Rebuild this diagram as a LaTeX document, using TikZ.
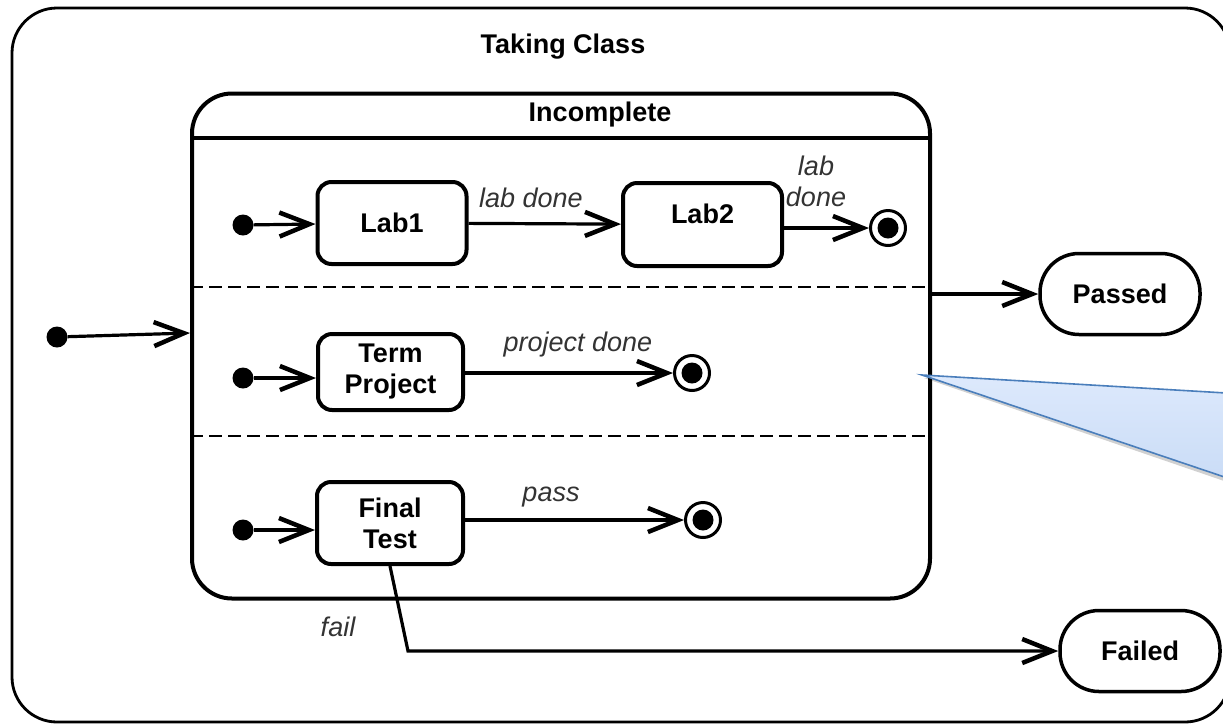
\documentclass[tikz,border=0pt]{standalone}
\usepackage{fontspec}
\setmainfont{Liberation Sans}
\usetikzlibrary{arrows.meta,shadows}
\definecolor{calloutfillA}{HTML}{DDE9FC}
\definecolor{calloutfillB}{HTML}{C8DBF6}
\definecolor{calloutline}{HTML}{4A7EBB}
\begin{document}
\begin{tikzpicture}[x=1pt,y=-1pt,
  bigfont/.style={font=\fontsize{27}{31}\selectfont\bfseries},
  statebox/.style={draw, line width=4pt, rounded corners=14pt, bigfont, align=center, inner sep=0pt},
  endbox/.style={draw, line width=3.5pt, rounded corners=39pt, bigfont, inner sep=0pt, minimum width=160pt, minimum height=81pt},
  initdot/.style={circle, fill, inner sep=0pt, minimum size=21pt},
  finalst/.style={circle, draw, line width=3pt, inner sep=0pt, minimum size=35pt,
     path picture={\fill (path picture bounding box.center) circle (10.5pt);}},
  trans/.style={line width=3.2pt, -{Straight Barb[length=30pt,width=24pt,line width=4.5pt]}},
  lbl/.style={font=\fontsize{27}{31}\selectfont\itshape, text=black!80, align=center, inner sep=0pt},
  sep/.style={line width=2.8pt, dash pattern=on 13pt off 6pt}
]
\useasboundingbox (0,0) rectangle (1223,724);

% outer state
\draw[line width=2.8pt, rounded corners=45pt] (12,8) rectangle (1230,722);
\node[bigfont] (taking) at (563,47) {Taking Class};

% composite state
\node[draw, line width=4pt, rounded corners=40pt, minimum width=738pt, minimum height=505pt, inner sep=0pt] (inc) at (561,346) {};
\node[bigfont] (inctitle) at (600,115) {Incomplete};
\draw[line width=4pt] (inc.west |- 0,138) -- (inc.east |- 0,138);
\draw[sep] (inc.west |- 0,287) -- (inc.east |- 0,287);
\draw[sep] (inc.west |- 0,436) -- (inc.east |- 0,436);

% region 1
\node[initdot] (i1) at (243,225) {};
\node[statebox, minimum width=149pt, minimum height=82pt] (lab1) at (392,223) {Lab1};
\node[statebox, minimum width=159pt, minimum height=83pt, label={[bigfont, yshift=11pt]center:Lab2}] (lab2) at (702.5,224.5) {};
\node[finalst] (f1) at (888,228) {};
\draw[trans] (i1) -- (lab1);
\draw[trans] (lab1) -- (lab2);
\draw[trans] (lab2.east |- f1) -- (f1);
\node[lbl] (l1) at (531,198) {lab done};
\node[lbl] (l2) at (816,181) {lab\\done};

% region 2
\node[initdot] (i2) at (243,378) {};
\node[statebox, minimum width=145pt, minimum height=76pt] (term) at (390.5,372) {Term\\Project};
\node[finalst] (f2) at (692,373) {};
\draw[trans] (i2) -- (i2 -| term.west);
\draw[trans] (term.east |- f2) -- (f2);
\node[lbl] (l3) at (578,345) {project done};

% region 3
\node[initdot] (i3) at (243,530) {};
\node[statebox, minimum width=146pt, minimum height=82pt] (final) at (390,523) {Final\\Test};
\node[finalst] (f3) at (703,520) {};
\draw[trans] (i3) -- (i3 -| final.west);
\draw[trans] (final.east |- f3) -- (f3);
\node[lbl] (l4) at (551,497) {pass};

% outer initial
\node[initdot] (i0) at (57,337) {};
\draw[trans] (i0) -- (inc.west |- 0,333);

% passed / failed
\node[endbox] (passed) at (1120,294) {Passed};
\node[endbox] (failed) at (1140,651) {Failed};
\draw[trans] (inc.east |- passed) -- (passed);
\coordinate (knee) at (408,651);
\draw[trans] (final.south) -- (knee) -- (failed.west);
\node[lbl] (l5) at (338,627) {fail};

% callout (body outside the picture)
\path[fill=black, opacity=0.18] (924,378) -- (1262,399) -- (1262,494) -- cycle;
\draw[draw=calloutline, line width=1.6pt, top color=calloutfillA, bottom color=calloutfillB]
  (922,375) -- (1260,395) -- (1260,489) -- cycle;
\end{tikzpicture}
\end{document}
